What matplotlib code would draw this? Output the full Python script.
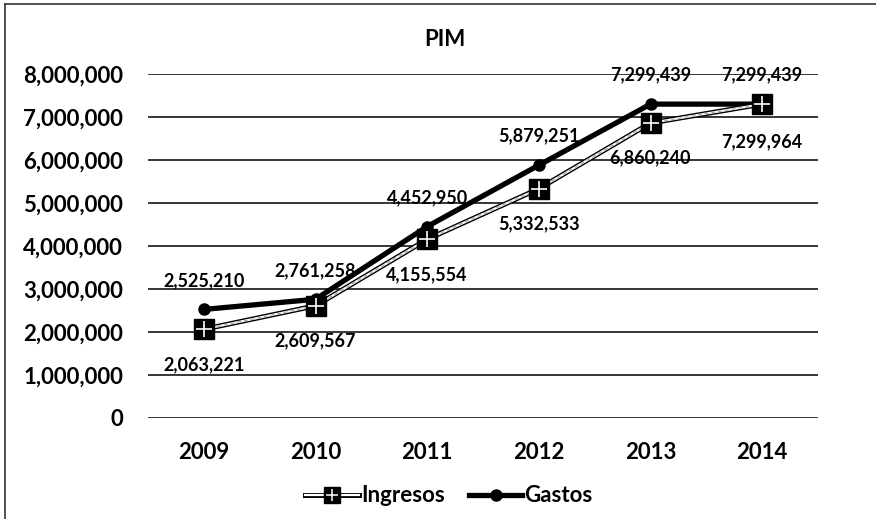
import matplotlib
matplotlib.use("Agg")
import matplotlib.pyplot as plt
from matplotlib.lines import Line2D
from matplotlib.ticker import FuncFormatter

years = ["2009", "2010", "2011", "2012", "2013", "2014"]
ingresos = [2063221, 2609567, 4155554, 5332533, 6860240, 7299964]
gastos = [2525210, 2761258, 4452950, 5879251, 7299439, 7299439]
yticks = [0, 1000000, 2000000, 3000000, 4000000, 5000000, 6000000, 7000000, 8000000]

plt.rcParams['font.family'] = ['Lato', 'DejaVu Sans']

W, H = 876, 519
fig = plt.figure(figsize=(W / 100, H / 100), dpi=100)
ax = fig.add_axes([148 / W, 1 - 418 / H, 670 / W, 344 / H])

x = list(range(len(years)))

# gridlines
for v in yticks:
    ax.axhline(v, color='black', lw=1.1, zorder=1)

# Gastos
ax.plot(x, gastos, color='black', lw=3.8, solid_capstyle='round', zorder=3)
ax.plot(x, gastos, linestyle='none', marker='o', ms=8, color='black', zorder=4)

# Ingresos
ax.plot(x, ingresos, color='black', lw=3.6, zorder=5)
ax.plot(x, ingresos, color='white', lw=1.6, zorder=6)
ax.plot(x, ingresos, color='#9a9a9a', lw=0.7, ls=(0, (4, 3)), zorder=6)
ax.plot(x, ingresos, linestyle='none', marker='s', ms=14, color='black', zorder=7)
ax.plot(x, ingresos, linestyle='none', marker='+', ms=11, mew=1.2, color='white', zorder=8)

lab_fs = 13
for i in x:
    ax.annotate(f"{gastos[i]:,}", (i, gastos[i]), xytext=(0, 29), textcoords='offset pixels',
                ha='center', va='center', fontsize=lab_fs, fontweight='bold', zorder=9)
    dy = -35 if i < 5 else -38
    ax.annotate(f"{ingresos[i]:,}", (i, ingresos[i]), xytext=(0, dy), textcoords='offset pixels',
                ha='center', va='center', fontsize=lab_fs, fontweight='bold', zorder=9)

ax.set_xlim(-0.5, 5.5)
ax.set_ylim(0, 8000000)
ax.set_yticks(yticks)
ax.yaxis.set_major_formatter(FuncFormatter(lambda v, p: f"{int(v):,}"))
ax.set_xticks(x)
ax.set_xticklabels(years)
ax.tick_params(axis='both', length=0, labelsize=16)
ax.tick_params(axis='y', pad=18)
ax.tick_params(axis='x', pad=17)
for t in ax.get_xticklabels() + ax.get_yticklabels():
    t.set_fontweight('bold')
for s in ax.spines.values():
    s.set_visible(False)

fig.text(445 / W, 1 - 39 / H, "PIM", ha='center', va='center', fontsize=16, fontweight='bold')

# legend
h_ing = (Line2D([], [], color='black', lw=3.6),
         Line2D([], [], color='white', lw=1.6),
         Line2D([], [], linestyle='none', marker='s', ms=12, color='black'),
         Line2D([], [], linestyle='none', marker='+', ms=9, mew=1.1, color='white'))
h_gas = (Line2D([], [], color='black', lw=3.8),
         Line2D([], [], linestyle='none', marker='o', ms=8, color='black'))
leg = fig.legend([h_ing, h_gas], ["Ingresos", "Gastos"], loc='center',
                 bbox_to_anchor=(449 / W, 1 - 496 / H), ncol=2, frameon=False,
                 prop={'size': 16, 'weight': 'bold'}, handlelength=2.4,
                 handletextpad=0.1, columnspacing=1.1)

# figure border (left and top)
fig.add_artist(Line2D([5 / W, 5 / W], [0, 1 - 4 / H], color='#333333', lw=1.2))
fig.add_artist(Line2D([5 / W, 1], [1 - 4 / H, 1 - 4 / H], color='#333333', lw=1.2))

fig.savefig("out.png", dpi=100)
